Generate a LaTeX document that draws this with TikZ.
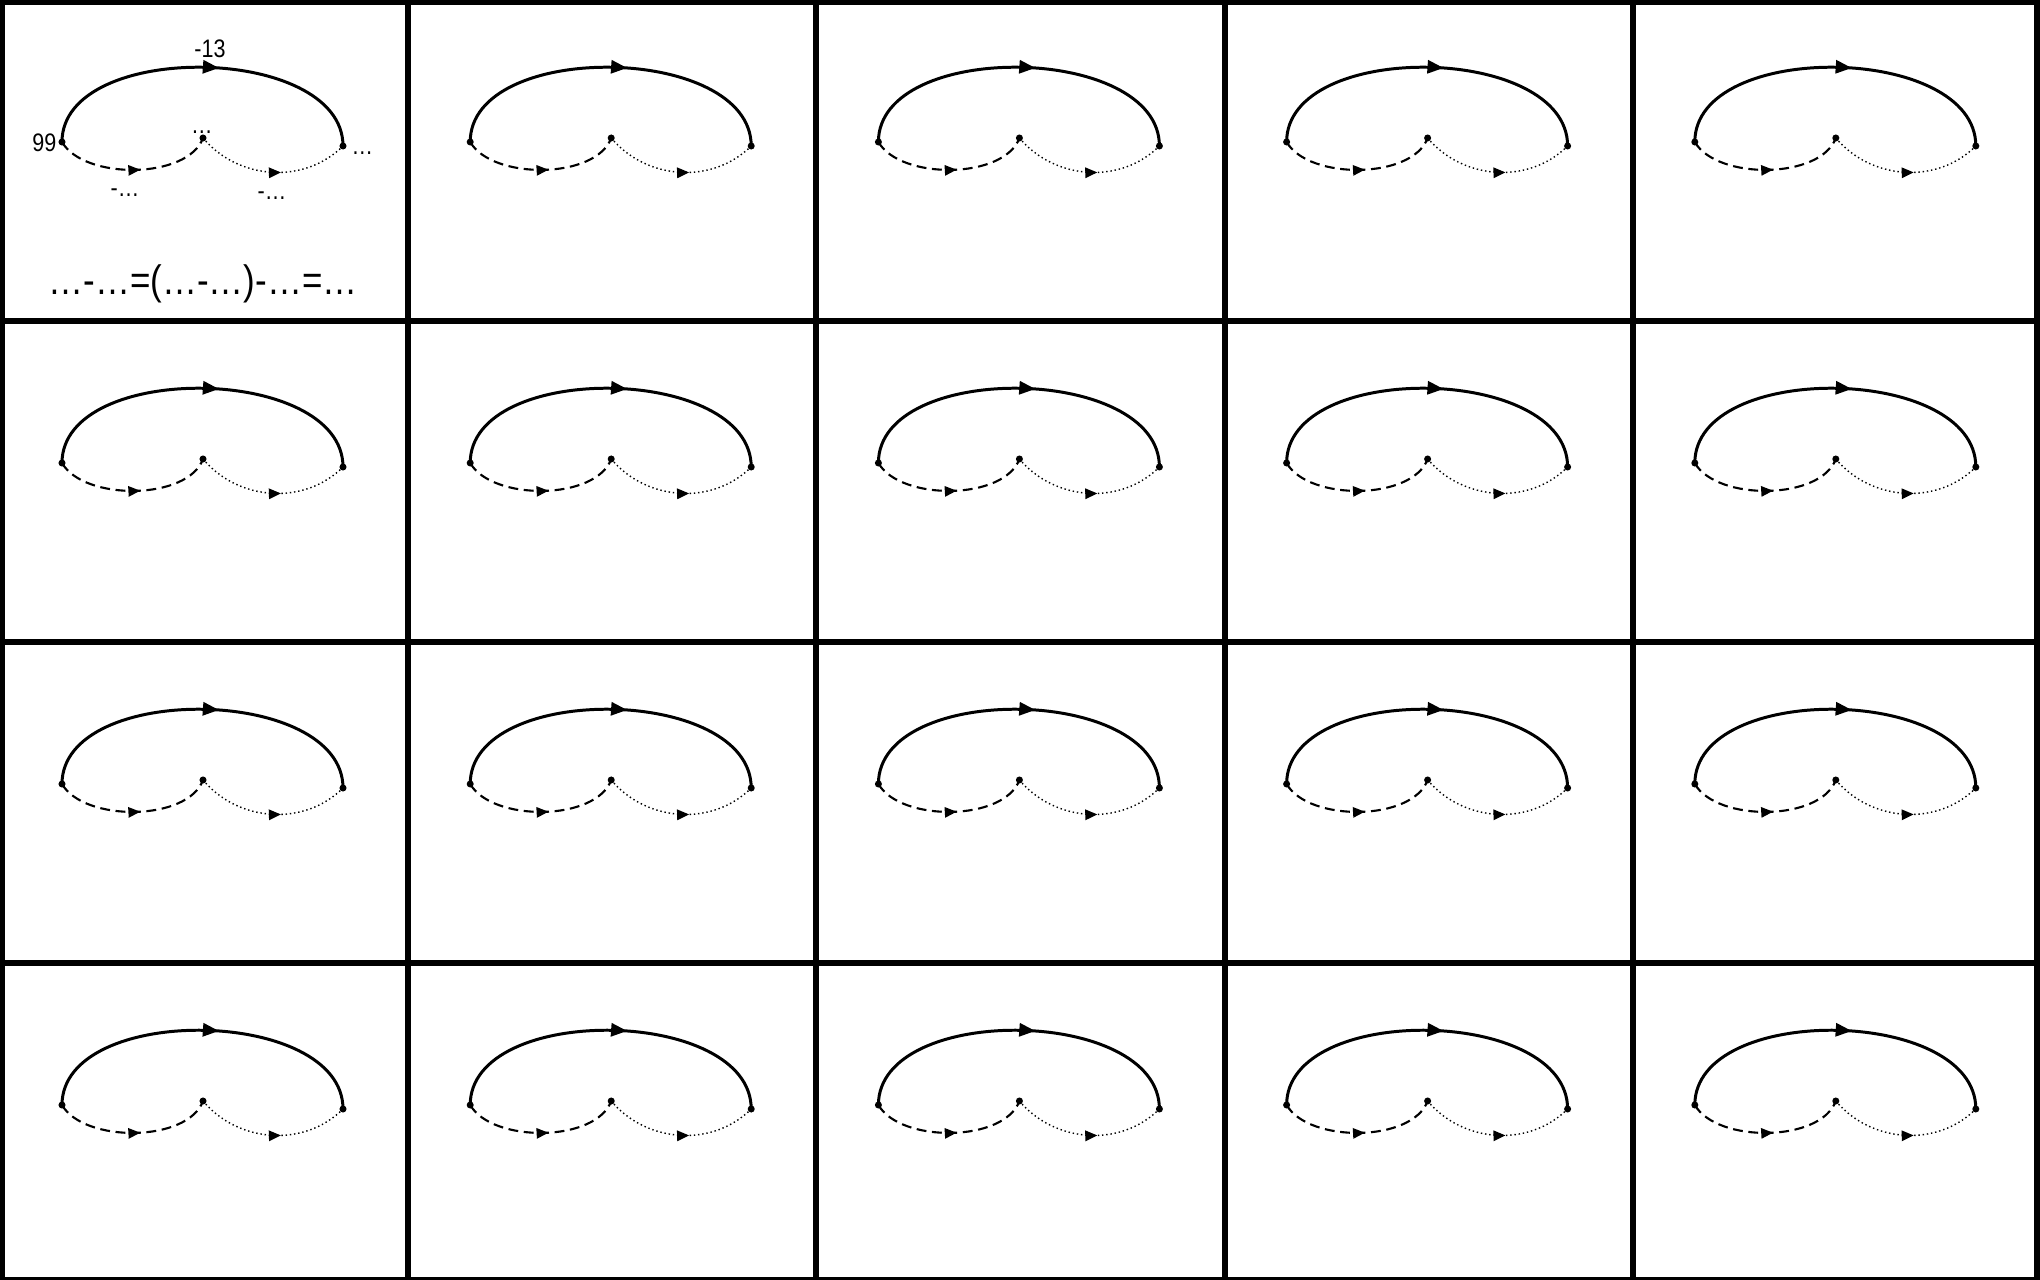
\documentclass[tikz,border=0pt]{standalone}
\usepackage{fontspec}
\setmainfont{Liberation Sans}[FakeStretch=0.85]
\usetikzlibrary{decorations.markings}
\usetikzlibrary{arrows.meta}
\tikzset{
	gridline/.style={line width=1.7pt},
	pt/.style={circle, fill=black, inner sep=0pt, minimum size=2pt},
	arrow at/.style n args={3}{
		postaction={
			decorate,
			decoration={
				markings,
				mark=at position #1 with {\arrow{Triangle[length=#2, width=#3]}}
			}
		}
	},
	toparc/.style={line width=0.85pt, arrow at={0.545}{4.6pt}{3.7pt}},
	dasharc/.style={line width=0.6pt, dash pattern=on 2.8pt off 1.6pt, arrow at={0.54}{3.4pt}{2.9pt}},
	dotarc/.style={line width=0.4pt, dash pattern=on 0.4pt off 0.8pt, arrow at={0.56}{3.4pt}{3pt}},
	small lbl/.style={inner sep=0pt, font=\fontsize{7.2pt}{8pt}\selectfont},
	big lbl/.style={inner sep=0pt, font=\fontsize{11.7pt}{13pt}\selectfont}
}

\begin{document}
\begin{tikzpicture}[x=0.01cm, y=-0.01cm]
	\useasboundingbox (0,0) rectangle (2040,1280);
	% grid
	\draw[gridline] (2.5,2.5) rectangle (2037,1280);
	\foreach \c in {1,...,4}
		\draw[gridline] (\c*408.2,0) -- (\c*408.2,1280);
	\foreach \r in {1,...,3}
		\draw[gridline] (0,\r*321) -- (2040,\r*321);
	% cells
	\foreach \c in {0,...,4}{
		\foreach \r in {0,...,3}{
			\begin{scope}[shift={(\c*408.2,\r*321)}]
				\node[pt] (l-\c-\r) at (62,142) {};
				\node[pt] (m-\c-\r) at (203,138) {};
				\node[pt] (r-\c-\r) at (343,146) {};
				\draw[toparc] (l-\c-\r.center) to[out=90, in=90, looseness=0.93] (r-\c-\r.center);
				\draw[dasharc] (l-\c-\r.center) to[out=-60, in=-110, looseness=0.8] (m-\c-\r.center);
				\draw[dotarc] (m-\c-\r.center) to[out=-50, in=-135, looseness=1] (r-\c-\r.center);
			\end{scope}
		}
	}
	% labels of the first cell
	\node[small lbl, anchor=base] (t-top) at (210,58) {-13};
	\node[small lbl, anchor=base east] (t-left) at (57,152) {99};
	\node[small lbl, anchor=base] (t-mid) at (202,134) {…};
	\node[small lbl, anchor=base west] (t-right) at (351,155) {…};
	\node[small lbl, anchor=base] (t-dash) at (125,197) {-…};
	\node[small lbl, anchor=base] (t-dot) at (272,200) {-…};
	\node[big lbl, anchor=base] (t-eq) at (203,295) {…-…=(…-…)-…=…};
\end{tikzpicture}
\end{document}
